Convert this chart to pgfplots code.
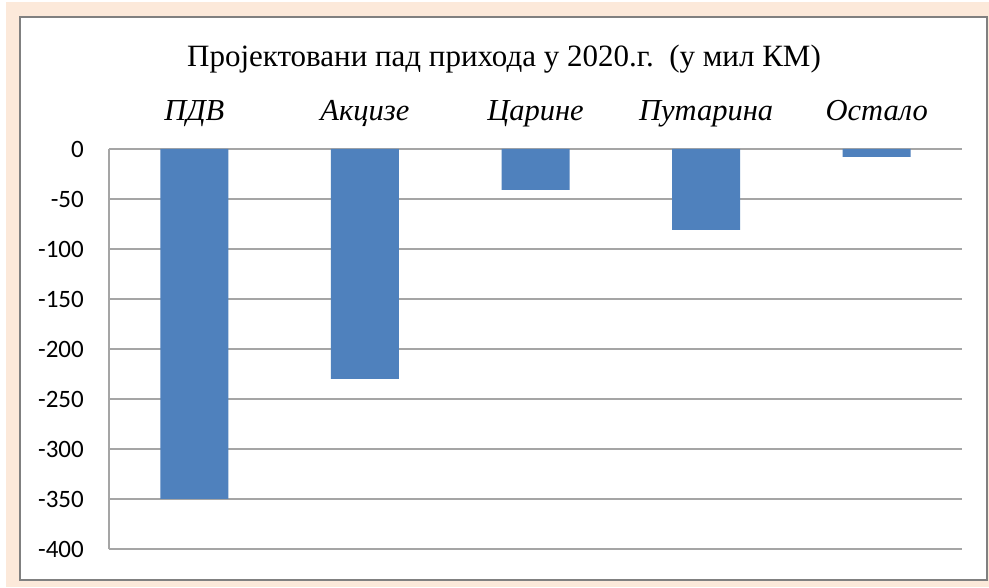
\documentclass[border=0pt]{standalone}
\usepackage{pgfplots}
\pgfplotsset{compat=1.18}
\usepackage{fontspec}
\setmainfont{Liberation Serif}
\newfontfamily\tickfont{Carlito}

\definecolor{peach}{RGB}{252,233,218}
\definecolor{barblue}{RGB}{79,129,189}
\definecolor{gridgray}{RGB}{165,165,165}
\definecolor{boxgray}{RGB}{128,128,128}

\begin{document}
\begin{tikzpicture}[x=1pt,y=1pt]
\useasboundingbox (0,0) rectangle (989,587);
% background frame
\fill[peach] (6,0) rectangle (989,585);
\fill[white, draw=boxgray, line width=1.5pt] (20,7) rectangle (987,570);
\node[anchor=base, font=\fontsize{31}{36}\selectfont] at (504,520)
  {Пројектовани пад прихода у 2020.г.\ \ (у мил КМ)};

\begin{axis}[
    at={(109pt,38pt)}, anchor=south west,
    scale only axis,
    width=853pt, height=400pt,
    xmin=-0.5, xmax=4.5,
    ymin=-400, ymax=0,
    ytick={-400,-350,...,0},
    xtick=data,
    xticklabels={ПДВ,Акцизе,Царине,Путарина,Остало},
    xticklabel pos=upper,
    x tick label style={anchor=base, yshift=28pt, font=\fontsize{30.5}{35}\selectfont\itshape},
    y tick label style={anchor=east, inner sep=0pt, xshift=-25pt, font=\fontsize{25}{29}\tickfont},
    /pgf/number format/assume math mode=true,
    major tick length=0pt,
    axis line style={draw=none},
    ymajorgrids,
    grid style={gridgray, line width=1.3pt},
    ybar, bar width=68pt,
    clip=false,
    ]
\addplot[fill=barblue, draw=none] coordinates {
    (0,-350) (1,-230) (2,-41) (3,-81) (4,-8)
};
\draw[gridgray, line width=1.3pt] (rel axis cs:0,0) -- (rel axis cs:0,1);
\end{axis}
\end{tikzpicture}
\end{document}
